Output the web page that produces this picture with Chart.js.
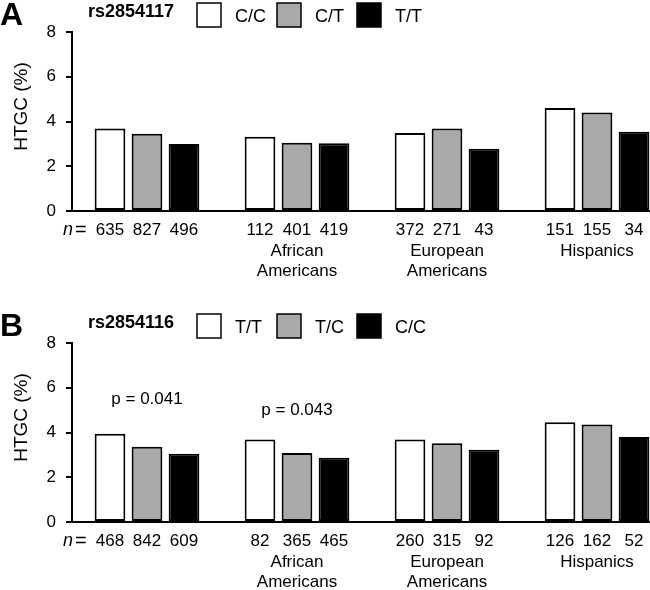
<!DOCTYPE html>
<html>
<head>
<meta charset="utf-8">
<script src="https://cdn.jsdelivr.net/npm/chart.js@4"></script>
<style>
  html, body { margin: 0; padding: 0; background: #fff; overflow: hidden; width: 650px; height: 590px; }
  canvas { position: absolute; left: 0; }
  #chartA { top: 0; }
  #chartB { top: 311px; }
</style>
</head>
<body>
<canvas id="chartA" width="680" height="311"></canvas>
<canvas id="chartB" width="680" height="311"></canvas>
<script>
// categories
const groups = [[''], ['African', 'Americans'], ['European', 'Americans'], ['Hispanics']];
const yTicks = [0, 2, 4, 6, 8];
const yTitle = 'HTGC (%)';

// panel A - rs2854117
const snpA = 'rs2854117';
const genotypesA = ['C/C', 'C/T', 'T/T'];
const htgcA_CC = [3.69, 3.32, 3.49, 4.60];
const htgcA_CT = [3.45, 3.05, 3.69, 4.40];
const htgcA_TT = [3.00, 3.03, 2.78, 3.54];
const nA_CC = [635, 112, 372, 151];
const nA_CT = [827, 401, 271, 155];
const nA_TT = [496, 419, 43, 34];

// panel B - rs2854116
const snpB = 'rs2854116';
const genotypesB = ['T/T', 'T/C', 'C/C'];
const htgcB_TT = [3.94, 3.69, 3.69, 4.46];
const htgcB_TC = [3.36, 3.08, 3.52, 4.36];
const htgcB_CC = [3.05, 2.87, 3.23, 3.80];
const nB_TT = [468, 82, 260, 126];
const nB_TC = [842, 365, 315, 162];
const nB_CC = [609, 465, 92, 52];
const pTextB = ['p = 0.041', 'p = 0.043', '', ''];
const pLevelB = [5.5, 5.0, null, null];

const FONT = "'Liberation Sans', Arial, Helvetica, sans-serif";
const fills = ['#ffffff', '#a9a9a9', '#000000'];

// draws panel letter, legend, axis title, n counts and p values
const extrasPlugin = {
  id: 'extras',
  afterDraw(chart, args, opts) {
    const ctx = chart.ctx;
    const area = chart.chartArea;
    const x = chart.scales.x, y = chart.scales.y;
    ctx.save();
    ctx.fillStyle = '#000';
    ctx.textBaseline = 'middle';

    // panel letter
    ctx.font = 'bold 32px ' + FONT;
    ctx.textAlign = 'left';
    ctx.fillText(opts.letter, 0, 16);

    // snp name
    ctx.font = 'bold 18px ' + FONT;
    ctx.fillText(opts.snp, 88, 12);

    // legend
    chart.data.datasets.forEach((ds, i) => {
      const bx = 197 + i * 80;
      ctx.fillStyle = ds.backgroundColor;
      ctx.fillRect(bx, 3, 24, 24);
      ctx.strokeStyle = '#000';
      ctx.lineWidth = 1.5;
      ctx.strokeRect(bx, 3, 24, 24);
      ctx.fillStyle = '#000';
      ctx.font = '18px ' + FONT;
      ctx.fillText(ds.label, bx + 38, 17);
    });

    // y axis title (sits a little above the middle of the axis)
    ctx.save();
    ctx.translate(22, (area.top + area.bottom) / 2 - 15);
    ctx.rotate(-Math.PI / 2);
    ctx.textAlign = 'center';
    ctx.font = '19px ' + FONT;
    ctx.fillText(yTitle, 0, 0);
    ctx.restore();

    // n = counts under each bar
    const ny = area.bottom + 19;
    ctx.font = 'italic 18px ' + FONT;
    ctx.textAlign = 'right';
    ctx.fillText('n', area.left + 1, ny);
    ctx.font = '20px ' + FONT;
    ctx.textAlign = 'left';
    ctx.fillText('=', area.left + 3, ny);
    ctx.font = '17px ' + FONT;
    ctx.textAlign = 'center';
    chart.data.datasets.forEach((ds, i) => {
      chart.getDatasetMeta(i).data.forEach((bar, j) => {
        ctx.fillText(String(ds.counts[j]), bar.x, ny);
      });
    });

    // p values
    if (opts.pText) {
      opts.pText.forEach((t, i) => {
        if (!t) return;
        ctx.fillText(t, x.getPixelForValue(i), y.getPixelForValue(opts.pLevel[i]));
      });
    }
    ctx.restore();
  }
};

function makeChart(id, letter, snp, genotypes, values, counts, pText, pLevel) {
  return new Chart(document.getElementById(id), {
    type: 'bar',
    data: {
      labels: groups,
      datasets: genotypes.map((g, i) => ({
        label: g,
        data: values[i],
        counts: counts[i],
        backgroundColor: fills[i],
        borderColor: '#000',
        borderWidth: 2,
        borderSkipped: false
      }))
    },
    options: {
      responsive: false,
      animation: false,
      categoryPercentage: 0.74,
      barPercentage: 0.83,
      layout: { padding: { top: 32, right: 8, bottom: 0, left: 0 } },
      plugins: {
        legend: { display: false },
        tooltip: { enabled: false },
        extras: { letter: letter, snp: snp, pText: pText, pLevel: pLevel }
      },
      scales: {
        x: {
          grid: { display: false, drawTicks: false },
          border: { display: true, color: '#000', width: 2 },
          ticks: {
            color: '#000',
            font: { family: FONT, size: 17, lineHeight: 1.18 },
            padding: 30,
            maxRotation: 0,
            autoSkip: false
          },
          afterFit(scale) { scale.height = 100; }
        },
        y: {
          min: 0,
          max: 8,
          afterBuildTicks(scale) { scale.ticks = yTicks.map(v => ({ value: v })); },
          grid: { display: true, drawOnChartArea: false, drawTicks: true, tickLength: 6, color: '#000', lineWidth: 2 },
          border: { display: true, color: '#000', width: 2 },
          ticks: { color: '#000', font: { family: FONT, size: 17 }, padding: 10 },
          afterFit(scale) { scale.width = 72; }
        }
      }
    },
    plugins: [extrasPlugin]
  });
}

makeChart('chartA', 'A', snpA, genotypesA,
  [htgcA_CC, htgcA_CT, htgcA_TT], [nA_CC, nA_CT, nA_TT]);
makeChart('chartB', 'B', snpB, genotypesB,
  [htgcB_TT, htgcB_TC, htgcB_CC], [nB_TT, nB_TC, nB_CC], pTextB, pLevelB);
</script>
</body>
</html>
